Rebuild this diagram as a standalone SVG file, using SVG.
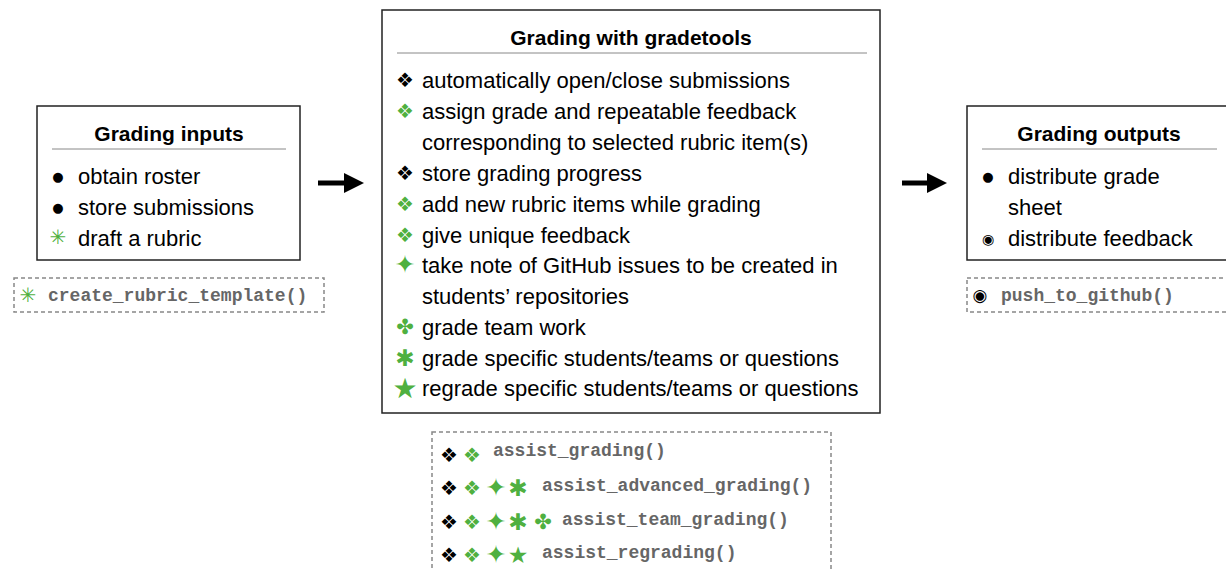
<svg xmlns="http://www.w3.org/2000/svg" width="1226" height="571" viewBox="0 0 1226 571">
<style>
.box{fill:#fff;stroke:#222;stroke-width:1.5}
.dash{fill:none;stroke:#888;stroke-width:1.5;stroke-dasharray:4 3}
.rule{stroke:#888;stroke-width:1}
.title{font-family:"Liberation Sans",Arial,sans-serif;font-weight:bold;font-size:21px;fill:#000;text-anchor:middle}
.item{font-family:"Liberation Sans",Arial,sans-serif;font-size:22px;fill:#000}
.code{font-family:"Liberation Mono","Courier New",monospace;font-weight:bold;font-size:18px;fill:#666}
.sym{font-family:"DejaVu Sans",sans-serif;font-size:20px;text-anchor:middle}
.dot{font-family:"DejaVu Sans",sans-serif;font-size:13px;text-anchor:middle;fill:#000}
.st{font-size:25px}
.ast{font-size:23px}
.clv{font-size:21px}
.g{fill:#4fb040}
.k{fill:#000}
</style>
<defs>
<marker id="ah" viewBox="0 0 10 10" refX="0" refY="5" markerWidth="4" markerHeight="4" orient="auto" markerUnits="strokeWidth">
<path d="M0,0 L10,5 L0,10 Z" fill="#000"/>
</marker>
</defs>

<g id="connectors">
<line x1="318" y1="183" x2="344" y2="183" stroke="#000" stroke-width="5" marker-end="url(#ah)"/>
<line x1="902" y1="183" x2="927" y2="183" stroke="#000" stroke-width="5" marker-end="url(#ah)"/>
</g>

<g id="inputs">
<rect class="box" x="37" y="106" width="263" height="154"/>
<text class="title" x="169" y="141">Grading inputs</text>
<line class="rule" x1="52" y1="149" x2="286" y2="149"/>
<text class="dot" x="58" y="181">●</text><text class="item" x="78" y="184">obtain roster</text>
<text class="dot" x="58" y="212">●</text><text class="item" x="78" y="215">store submissions</text>
<text class="sym g" x="58" y="244">✳&#xFE0E;</text><text class="item" x="78" y="246">draft a rubric</text>
</g>

<g id="inputs-code">
<rect class="dash" x="14" y="278" width="310" height="34"/>
<text class="sym g" x="28" y="302">✳&#xFE0E;</text>
<text class="code" x="48" y="301">create_rubric_template()</text>
</g>

<g id="gradetools">
<rect class="box" x="382" y="10" width="498" height="403"/>
<text class="title" x="631" y="45">Grading with gradetools</text>
<line class="rule" x1="397" y1="53" x2="867" y2="53"/>
<text class="sym k" x="405" y="87">❖</text><text class="item" x="422" y="88">automatically open/close submissions</text>
<text class="sym g" x="405" y="118">❖</text><text class="item" x="422" y="119">assign grade and repeatable feedback</text>
<text class="item" x="422" y="150">corresponding to selected rubric item(s)</text>
<text class="sym k" x="405" y="180">❖</text><text class="item" x="422" y="181">store grading progress</text>
<text class="sym g" x="405" y="211">❖</text><text class="item" x="422" y="212">add new rubric items while grading</text>
<text class="sym g" x="405" y="242">❖</text><text class="item" x="422" y="243">give unique feedback</text>
<text class="sym g st" x="405" y="273">✦</text><text class="item" x="422" y="273">take note of GitHub issues to be created in</text>
<text class="item" x="422" y="304">students’ repositories</text>
<text class="sym g clv" x="405" y="334">✤</text><text class="item" x="422" y="335">grade team work</text>
<text class="sym g ast" x="405" y="366">✱</text><text class="item" x="422" y="366">grade specific students/teams or questions</text>
<text class="sym g" x="405" y="398" style="font-size:28px">★</text><text class="item" x="422" y="396">regrade specific students/teams or questions</text>
</g>

<g id="gradetools-code">
<rect class="dash" x="432" y="432" width="399" height="145"/>
<text class="sym k" x="449" y="462">❖</text><text class="sym g" x="472" y="462">❖</text>
<text class="code" x="493" y="456">assist_grading()</text>
<text class="sym k" x="449" y="495">❖</text><text class="sym g" x="472" y="495">❖</text><text class="sym g st" x="496" y="496">✦</text><text class="sym g ast" x="518" y="496">✱</text>
<text class="code" x="542" y="491">assist_advanced_grading()</text>
<text class="sym k" x="449" y="529">❖</text><text class="sym g" x="472" y="529">❖</text><text class="sym g st" x="496" y="530">✦</text><text class="sym g ast" x="518" y="530">✱</text><text class="sym g clv" x="543" y="529">✤</text>
<text class="code" x="562" y="525">assist_team_grading()</text>
<text class="sym k" x="449" y="562">❖</text><text class="sym g" x="472" y="562">❖</text><text class="sym g st" x="496" y="563">✦</text><text class="sym g" x="518" y="563" style="font-size:23px">★</text>
<text class="code" x="542" y="558">assist_regrading()</text>
</g>

<g id="outputs">
<rect class="box" x="967" y="106" width="270" height="154"/>
<text class="title" x="1099" y="141">Grading outputs</text>
<line class="rule" x1="982" y1="149" x2="1217" y2="149"/>
<text class="dot" x="988" y="181">●</text><text class="item" x="1008" y="184">distribute grade</text>
<text class="item" x="1008" y="215">sheet</text>
<text class="sym k" x="988" y="244" style="font-size:14px">◉</text><text class="item" x="1008" y="246">distribute feedback</text>
</g>

<g id="outputs-code">
<rect class="dash" x="967" y="278" width="270" height="34"/>
<text class="sym k" x="980" y="301" style="font-size:17px">◉</text>
<text class="code" x="1001" y="301">push_to_github()</text>
</g>
</svg>
